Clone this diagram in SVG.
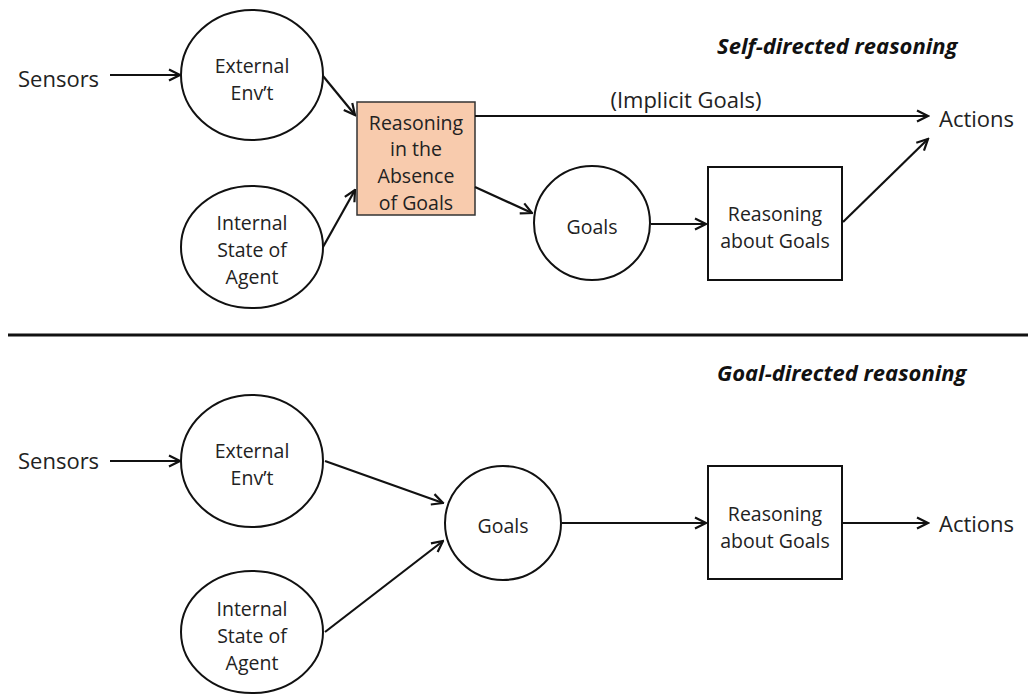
<svg xmlns="http://www.w3.org/2000/svg" width="1028" height="694" viewBox="0 0 1028 694">
<defs>
<marker id="arr" viewBox="0 0 14 14" refX="12.5" refY="7" markerWidth="14" markerHeight="14" markerUnits="userSpaceOnUse" orient="auto">
<path d="M1.5,1.5 L12.5,7 L1.5,12.5" fill="none" stroke="#111" stroke-width="2.2"/>
</marker>
</defs>
<style>
.shape{fill:#fff;stroke:#111;stroke-width:2}
.peach{fill:#F8CBAD;stroke:#333;stroke-width:1.5}
.t{font-family:"Open Sans","Liberation Sans",sans-serif;font-size:19.5px;fill:#222;text-anchor:middle;dominant-baseline:central}
.big{font-size:22px}
.tl{text-anchor:start}
.title{font-family:"Open Sans","Liberation Sans",sans-serif;font-size:22px;font-weight:bold;font-style:italic;fill:#111;dominant-baseline:central}
.c{fill:none;stroke:#111;stroke-width:2.2;marker-end:url(#arr)}
</style>
<rect width="1028" height="694" fill="#fff"/>
<text class="title" x="717" y="45">Self-directed reasoning</text>
<text class="title" x="717" y="372">Goal-directed reasoning</text>
<line x1="8" y1="335" x2="1028" y2="335" stroke="#111" stroke-width="3"/>

<g id="top-sensors"><text class="t big tl" x="18" y="78">Sensors</text></g>
<g id="top-ext"><ellipse class="shape" cx="252" cy="75" rx="71" ry="65"/><text class="t" x="252" y="65">External</text><text class="t" x="252" y="92">Env’t</text></g>
<g id="top-int"><ellipse class="shape" cx="252" cy="247" rx="71" ry="61"/><text class="t" x="252" y="222">Internal</text><text class="t" x="252" y="249">State of</text><text class="t" x="252" y="276">Agent</text></g>
<g id="top-rag0"><rect class="peach" x="357" y="102" width="118" height="113"/><text class="t" x="416" y="122">Reasoning</text><text class="t" x="416" y="148">in the</text><text class="t" x="416" y="175">Absence</text><text class="t" x="416" y="202">of Goals</text></g>
<g id="top-goals"><ellipse class="shape" cx="592" cy="223" rx="58" ry="57"/><text class="t" x="592" y="226">Goals</text></g>
<g id="top-rag"><rect class="shape" x="708" y="167" width="134" height="113"/><text class="t" x="775" y="213">Reasoning</text><text class="t" x="775" y="240">about Goals</text></g>
<g id="top-actions"><text class="t big tl" x="939" y="118">Actions</text></g>

<g id="bot-sensors"><text class="t big tl" x="18" y="460">Sensors</text></g>
<g id="bot-ext"><ellipse class="shape" cx="252" cy="461" rx="71" ry="66"/><text class="t" x="252" y="450">External</text><text class="t" x="252" y="477">Env’t</text></g>
<g id="bot-int"><ellipse class="shape" cx="252" cy="632" rx="71" ry="61"/><text class="t" x="252" y="608">Internal</text><text class="t" x="252" y="635">State of</text><text class="t" x="252" y="662">Agent</text></g>
<g id="bot-goals"><ellipse class="shape" cx="503" cy="523" rx="58" ry="57"/><text class="t" x="503" y="525">Goals</text></g>
<g id="bot-rag"><rect class="shape" x="708" y="466" width="134" height="113"/><text class="t" x="775" y="513">Reasoning</text><text class="t" x="775" y="540">about Goals</text></g>
<g id="bot-actions"><text class="t big tl" x="939" y="523">Actions</text></g>

<g id="connectors">
<line class="c" x1="110" y1="75" x2="180" y2="75"/>
<line class="c" x1="323" y1="76" x2="355" y2="115"/>
<line class="c" x1="323" y1="247" x2="355" y2="190"/>
<line class="c" x1="475" y1="116" x2="928" y2="116"/>
<text class="t big" x="686" y="99">(Implicit Goals)</text>
<line class="c" x1="475" y1="187" x2="532" y2="213"/>
<line class="c" x1="651" y1="224" x2="706" y2="224"/>
<line class="c" x1="843" y1="222" x2="928" y2="139"/>
<line class="c" x1="110" y1="461" x2="180" y2="461"/>
<line class="c" x1="325" y1="461" x2="443" y2="503"/>
<line class="c" x1="325" y1="632" x2="443" y2="541"/>
<line class="c" x1="562" y1="523" x2="706" y2="523"/>
<line class="c" x1="843" y1="523" x2="928" y2="523"/>
</g>
</svg>
